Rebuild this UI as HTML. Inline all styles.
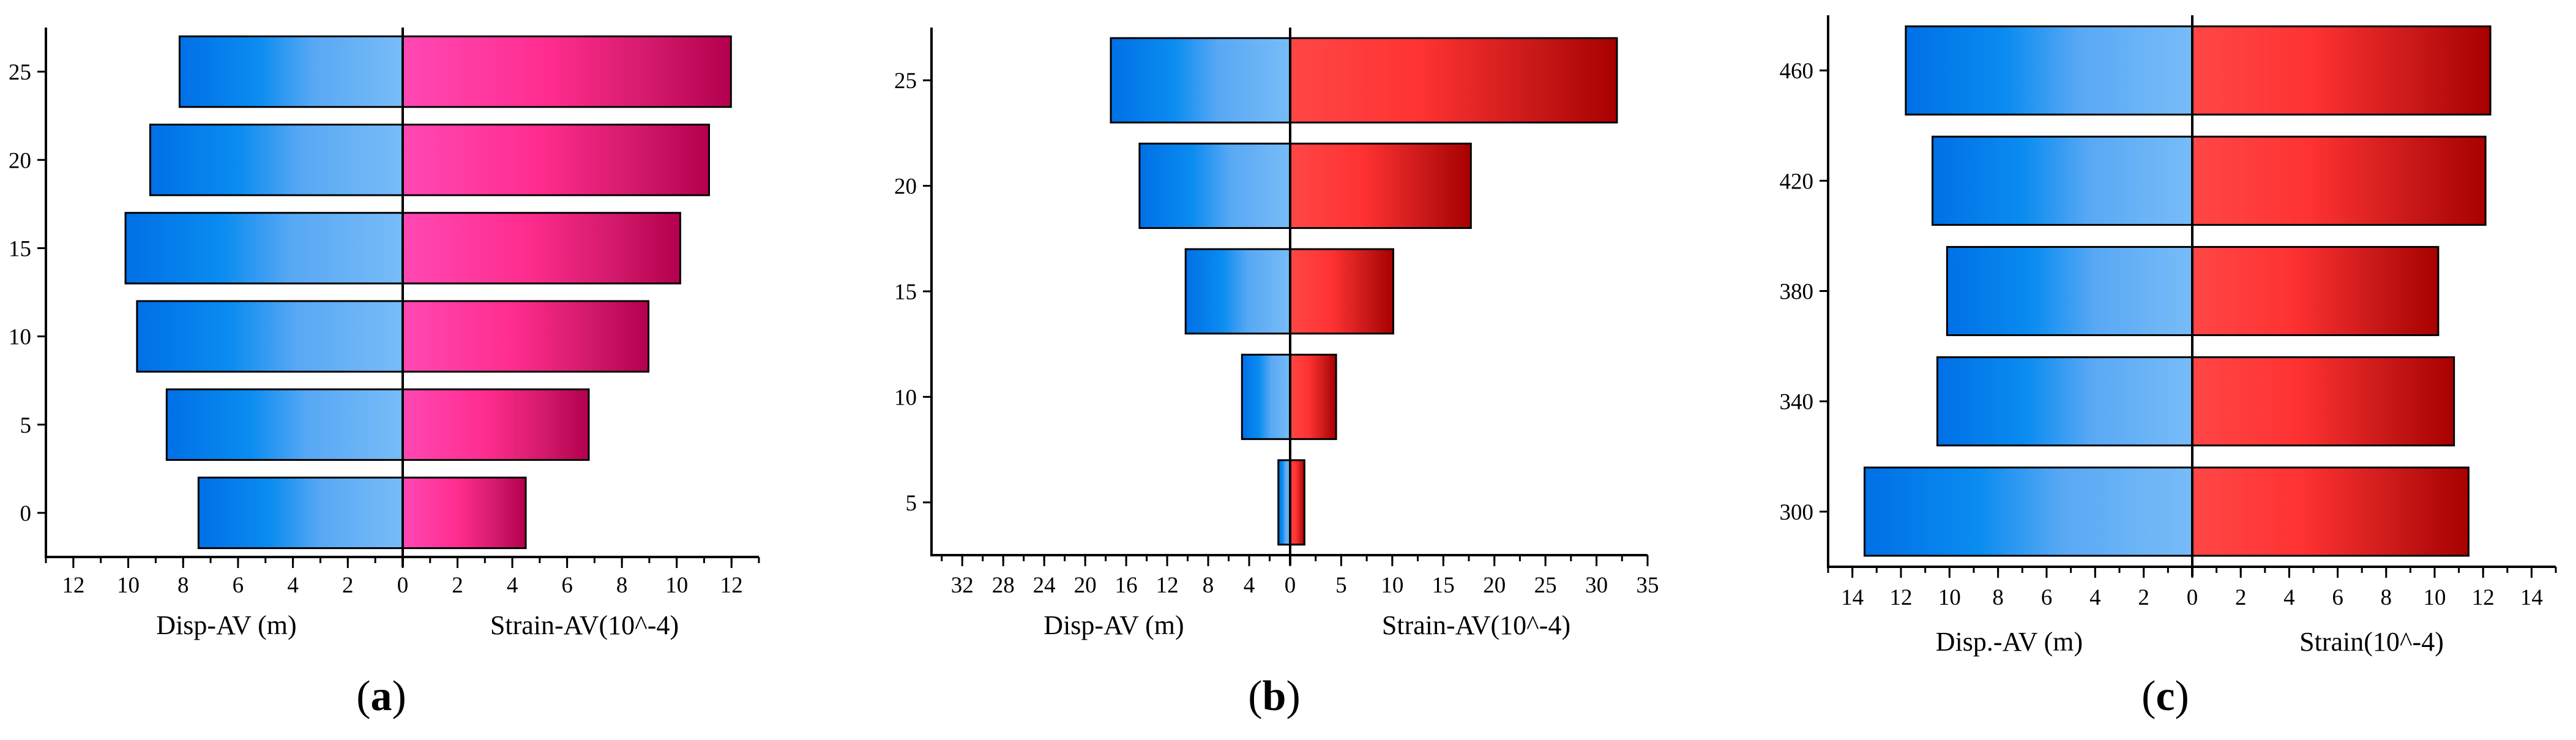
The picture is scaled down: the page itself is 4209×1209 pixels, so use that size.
<!DOCTYPE html>
<html><head><meta charset="utf-8"><style>
html,body{margin:0;padding:0;background:#fff;}
svg{display:block;}
text{font-family:"Liberation Serif",serif;fill:#000;}
</style></head><body>
<svg id="fig" width="4209" height="1209" viewBox="0 0 4209 1209" xmlns="http://www.w3.org/2000/svg">
<defs>
<linearGradient id="gBlue" x1="0" x2="1" y1="0" y2="0">
<stop offset="0" stop-color="#0070e6"/><stop offset="0.35" stop-color="#0a8cf0"/><stop offset="0.6" stop-color="#58a8f4"/><stop offset="1" stop-color="#78bcf8"/>
</linearGradient>
<linearGradient id="gPink" x1="0" x2="1" y1="0" y2="0">
<stop offset="0" stop-color="#ff48b4"/><stop offset="0.45" stop-color="#ff2c8e"/><stop offset="0.75" stop-color="#d41a6c"/><stop offset="1" stop-color="#b4004e"/>
</linearGradient>
<linearGradient id="gRed" x1="0" x2="1" y1="0" y2="0">
<stop offset="0" stop-color="#ff4646"/><stop offset="0.4" stop-color="#ff3232"/><stop offset="0.75" stop-color="#c81818"/><stop offset="1" stop-color="#a80000"/>
</linearGradient>
</defs>
</svg>
<script>
// Panel (a)
const aCats = [0, 5, 10, 15, 20, 25];
const aDisp = [7.44, 8.6, 9.68, 10.1, 9.2, 8.13];
const aStrain = [4.49, 6.79, 8.97, 10.13, 11.18, 11.98];
const aYTicks = [0, 5, 10, 15, 20, 25];
const aXLeftTicks = [12, 10, 8, 6, 4, 2];
const aXRightTicks = [0, 2, 4, 6, 8, 10, 12];
// Panel (b)
const bCats = [5, 10, 15, 20, 25];
const bDisp = [1.15, 4.7, 10.2, 14.7, 17.5];
const bStrain = [1.4, 4.5, 10.1, 17.7, 32];
const bYTicks = [5, 10, 15, 20, 25];
const bXLeftTicks = [32, 28, 24, 20, 16, 12, 8, 4];
const bXRightTicks = [0, 5, 10, 15, 20, 25, 30, 35];
// Panel (c)
const cCats = [300, 340, 380, 420, 460];
const cDisp = [13.5, 10.5, 10.1, 10.7, 11.8];
const cStrain = [11.4, 10.8, 10.15, 12.1, 12.3];
const cYTicks = [300, 340, 380, 420, 460];
const cXLeftTicks = [14, 12, 10, 8, 6, 4, 2];
const cXRightTicks = [0, 2, 4, 6, 8, 10, 12, 14];

const NS = "http://www.w3.org/2000/svg";
const svg = document.getElementById('fig');
function mk(tag, attrs, parent) {
  const e = document.createElementNS(NS, tag);
  for (const k in attrs) e.setAttribute(k, attrs[k]);
  (parent || svg).appendChild(e);
  return e;
}

function drawPanel(p) {
  const g = mk('g', {});
  
  
  const sx = v => p.zeroX + v * (p.right - p.zeroX) / p.xmax;
  const sxl = v => p.zeroX - v * (p.zeroX - p.left) / p.xmax;
  const sy = v => p.bottom - (v - p.ymin) * (p.bottom - p.top) / (p.ymax - p.ymin);
  const bh = Math.abs(sy(p.barH) - sy(0));
  p.cats.forEach((c, i) => {
    const yc = sy(c);
    const l = mk('rect', {x: sxl(p.disp[i]), y: yc - bh / 2, width: p.zeroX - sxl(p.disp[i]), height: bh, fill: 'url(#gBlue)', stroke: '#000', 'stroke-width': 3}, g);
    
    
    const r = mk('rect', {x: p.zeroX, y: yc - bh / 2, width: sx(p.strain[i]) - p.zeroX, height: bh, fill: p.grad, stroke: '#000', 'stroke-width': 3}, g);
    
    
  });
  const z = mk('line', {x1: p.zeroX, x2: p.zeroX, y1: p.top, y2: p.bottom + 16, stroke: '#000', 'stroke-width': 4}, g);
  
  
  const ya = mk('line', {x1: p.left, x2: p.left, y1: p.top, y2: p.bottom + 2, stroke: '#000', 'stroke-width': 4}, g);
  
  
  const xa = mk('line', {x1: p.left - 2, x2: p.right, y1: p.bottom, y2: p.bottom, stroke: '#000', 'stroke-width': 4}, g);
  
  
  p.yTicks.forEach(t => {
    const y = sy(t);
    mk('line', {x1: p.left - 14, x2: p.left, y1: y, y2: y, stroke: '#000', 'stroke-width': 3}, g);
    const tx = mk('text', {x: p.left - 24, y: y + 13, 'text-anchor': 'end', 'font-size': 37}, g);
    tx.textContent = t;
    
    
  });
  for (let v = 0; v <= p.xmax + 1e-6; v += p.minorL) {
    mk('line', {x1: sxl(v), x2: sxl(v), y1: p.bottom, y2: p.bottom + 10, stroke: '#000', 'stroke-width': 3}, g);
  }
  for (let v = 0; v <= p.xmax + 1e-6; v += p.minorR) {
    mk('line', {x1: sx(v), x2: sx(v), y1: p.bottom, y2: p.bottom + 10, stroke: '#000', 'stroke-width': 3}, g);
  }
  p.xl.forEach(t => {
    mk('line', {x1: sxl(t), x2: sxl(t), y1: p.bottom, y2: p.bottom + 18, stroke: '#000', 'stroke-width': 3}, g);
    const tx = mk('text', {x: sxl(t), y: p.tickY, 'text-anchor': 'middle', 'font-size': 37}, g);
    tx.textContent = t;
    
    
  });
  p.xr.forEach(t => {
    mk('line', {x1: sx(t), x2: sx(t), y1: p.bottom, y2: p.bottom + 18, stroke: '#000', 'stroke-width': 3}, g);
    const tx = mk('text', {x: sx(t), y: p.tickY, 'text-anchor': 'middle', 'font-size': 37}, g);
    tx.textContent = t;
    
    
  });
  const t1 = mk('text', {x: p.t1x, y: p.titleY, 'text-anchor': 'middle', 'font-size': 44}, g);
  t1.textContent = p.t1;
  
  
  const t2 = mk('text', {x: p.t2x, y: p.titleY, 'text-anchor': 'middle', 'font-size': 44}, g);
  t2.textContent = p.t2;
  
  
  const lb = mk('text', {x: p.lbx, y: 1160, 'text-anchor': 'middle', 'font-size': 70}, g);
  lb.innerHTML = '(<tspan font-weight="bold">' + p.id + '</tspan>)';
  
  
}

drawPanel({id: 'a', cats: aCats, disp: aDisp, strain: aStrain, yTicks: aYTicks, xl: aXLeftTicks, xr: aXRightTicks,
  left: 75, zeroX: 658, right: 1240, xmax: 13, top: 45, bottom: 910, ymin: -2.5, ymax: 27.5, barH: 4,
  minorL: 1, minorR: 1, grad: 'url(#gPink)', tickY: 968, titleY: 1036,
  t1: 'Disp-AV (m)', t2: 'Strain-AV(10^-4)', t1x: 370, t2x: 955, lbx: 623});
drawPanel({id: 'b', cats: bCats, disp: bDisp, strain: bStrain, yTicks: bYTicks, xl: bXLeftTicks, xr: bXRightTicks,
  left: 1522, zeroX: 2108, right: 2692, xmax: 35, top: 45, bottom: 907, ymin: 2.5, ymax: 27.5, barH: 4,
  minorL: 2, minorR: 2.5, grad: 'url(#gRed)', tickY: 968, titleY: 1036,
  t1: 'Disp-AV (m)', t2: 'Strain-AV(10^-4)', t1x: 1820, t2x: 2412, lbx: 2082});
drawPanel({id: 'c', cats: cCats, disp: cDisp, strain: cStrain, yTicks: cYTicks, xl: cXLeftTicks, xr: cXRightTicks,
  left: 2987, zeroX: 3582, right: 4176, xmax: 15, top: 25, bottom: 926, ymin: 280, ymax: 480, barH: 32,
  minorL: 1, minorR: 1, grad: 'url(#gRed)', tickY: 988, titleY: 1063,
  t1: 'Disp.-AV (m)', t2: 'Strain(10^-4)', t1x: 3283, t2x: 3875, lbx: 3538});
</script>
</body></html>
